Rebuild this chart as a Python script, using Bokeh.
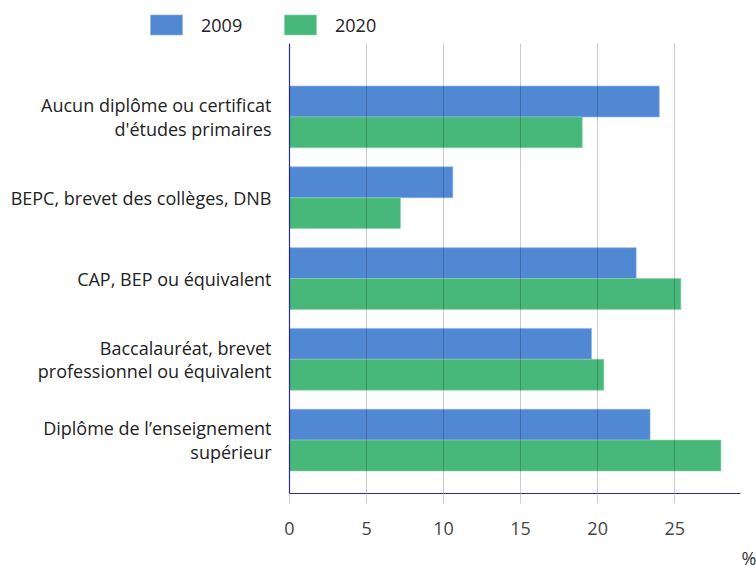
from bokeh.plotting import figure
from bokeh.models import (ColumnDataSource, Range1d, FixedTicker, Legend, LegendItem, Title)
from bokeh.embed import file_html
from bokeh.resources import INLINE

categories = [
    "Aucun diplôme ou certificat\nd'études primaires",
    "BEPC, brevet des collèges, DNB",
    "CAP, BEP ou équivalent",
    "Baccalauréat, brevet\nprofessionnel ou équivalent",
    "Diplôme de l’enseignement\nsupérieur",
]
series_names = ["2009", "2020"]
values_2009 = [24.0, 10.6, 22.5, 19.6, 23.4]
values_2020 = [19.0, 7.2, 25.4, 20.4, 28.0]
x_ticks = [0, 5, 10, 15, 20, 25]
unit_label = "%"

FONT = "Open Sans"
BLUE = "#5088d4"
GREEN = "#48b87a"
AXIS = "#2b2b9a"
TOP_H = 43

idx = list(range(len(categories)))
bar_h = 0.382
src09 = ColumnDataSource(dict(y=[i - bar_h / 2 for i in idx], v=values_2009))
src20 = ColumnDataSource(dict(y=[i + bar_h / 2 for i in idx], v=values_2020))

# ---- legend strip (separate small figure so the legend is not clipped) ----
top = figure(width=756, height=TOP_H, output_backend="svg", toolbar_location=None,
             x_range=Range1d(0, 1), y_range=Range1d(0, 1),
             min_border_left=0, min_border_right=0, min_border_top=0, min_border_bottom=0)
top.axis.visible = False
top.grid.visible = False
top.outline_line_color = None
l09 = top.hbar(y="y", right="v", left=0, height=bar_h, source=src09,
               fill_color=BLUE, line_color="#8fb3e6", line_width=0.6, visible=False)
l20 = top.hbar(y="y", right="v", left=0, height=bar_h, source=src20,
               fill_color=GREEN, line_color="#8ad3ab", line_width=0.6, visible=False)
legend = Legend(items=[LegendItem(label=series_names[0], renderers=[l09]),
                       LegendItem(label=series_names[1], renderers=[l20])],
                location=(146, 6), orientation="horizontal",
                glyph_width=40, glyph_height=25, label_height=25, label_width=79,
                label_standoff=15, spacing=0, padding=0, margin=0,
                border_line_color=None, background_fill_alpha=0,
                inactive_fill_alpha=0,
                label_text_font=FONT, label_text_font_size="18px", label_text_color="#222222")
top.add_layout(legend, "center")

# ---- main chart ----
p = figure(width=756, height=575 - TOP_H, output_backend="svg", toolbar_location=None,
           x_range=Range1d(0, 29.27), y_range=Range1d(4.661, -0.909),
           min_border_left=289, min_border_right=16, min_border_top=0, min_border_bottom=80)
p.outline_line_color = None
p.background_fill_color = "white"

p.hbar(y="y", right="v", left=0, height=bar_h, source=src09,
       fill_color=BLUE, line_color="#8fb3e6", line_width=0.6)
p.hbar(y="y", right="v", left=0, height=bar_h, source=src20,
       fill_color=GREEN, line_color="#8ad3ab", line_width=0.6)

xa = p.xaxis[0]
xa.ticker = FixedTicker(ticks=x_ticks)
xa.axis_line_color = AXIS
xa.axis_line_width = 1.2
xa.major_tick_line_color = "#cccccc"
xa.major_tick_out = 10
xa.major_tick_in = 0
xa.minor_tick_line_color = None
xa.major_label_text_font = FONT
xa.major_label_text_font_size = "18px"
xa.major_label_text_color = "#444444"
xa.major_label_standoff = 18

ya = p.yaxis[0]
ya.ticker = FixedTicker(ticks=idx)
ya.major_label_overrides = {i: c for i, c in zip(idx, categories)}
ya.axis_line_color = AXIS
ya.axis_line_width = 1.2
ya.major_tick_line_color = None
ya.minor_tick_line_color = None
ya.major_tick_out = 0
ya.major_tick_in = 0
ya.major_label_text_font = FONT
ya.major_label_text_font_size = "18px"
ya.major_label_text_color = "#222222"
ya.major_label_text_line_height = 0.97
ya.major_label_standoff = 18

p.ygrid.grid_line_color = None
p.xgrid.grid_line_color = "black"
p.xgrid.grid_line_alpha = 0.2
p.xgrid.level = "overlay"

pct = Title(text=unit_label, align="right", offset=-16, standoff=12,
            text_font=FONT, text_font_size="18px", text_font_style="normal",
            text_color="#333333")
p.add_layout(pct, "below")

open("out.html", "w").write(file_html([top, p], INLINE))
